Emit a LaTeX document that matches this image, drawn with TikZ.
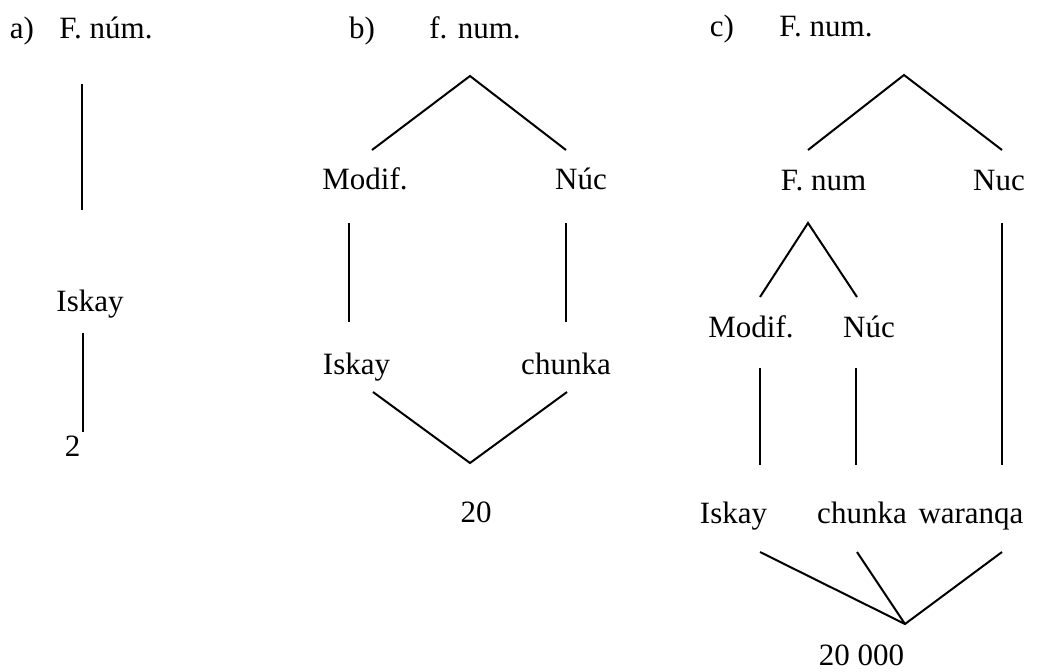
\documentclass[tikz,border=0pt]{standalone}
\usepackage{fontspec}
\setmainfont{Liberation Serif}
\begin{document}
\begin{tikzpicture}[x=1pt,y=-1pt,
  lbl/.style={inner sep=0pt, anchor=base, font=\fontsize{31}{37}\selectfont},
  link/.style={line width=2pt, line cap=butt, line join=miter}]
\useasboundingbox (0,0) rectangle (1037,672);

% ---------------- a) ----------------
\node[lbl] (a-tag)   at (22,38)   {a)};
\node[lbl] (a-root)  at (106,38)  {F. núm.};
\node[lbl] (a-isk)   at (90,311)  {Iskay};
\node[lbl] (a-two)   at (72.5,456) {2};
\coordinate (a1s) at (82,84);  \coordinate (a1e) at (82,210);
\coordinate (a2s) at (83,333); \coordinate (a2e) at (83,432);
\draw[link] (a1s) -- (a1e);
\draw[link] (a2s) -- (a2e);

% ---------------- b) ----------------
\node[lbl] (b-tag)   at (362,38)  {b)};
\node[lbl] (b-root)  at (475,38)  {f. num.};
\node[lbl] (b-mod)   at (365,189) {Modif.};
\node[lbl] (b-nuc)   at (581,189) {Núc};
\node[lbl] (b-isk)   at (356.5,374) {Iskay};
\node[lbl] (b-chu)   at (566,374) {chunka};
\node[lbl] (b-res)   at (476,522) {20};
\coordinate (bap) at (470,76);
\coordinate (bl)  at (372,150);
\coordinate (br)  at (566,150);
\coordinate (bv1s) at (349,223); \coordinate (bv1e) at (349,322);
\coordinate (bv2s) at (566,223); \coordinate (bv2e) at (566,322);
\coordinate (bll) at (373,392);
\coordinate (blr) at (567,392);
\coordinate (bbot) at (470,463);
\draw[link] (bl) -- (bap) -- (br);
\draw[link] (bv1s) -- (bv1e);
\draw[link] (bv2s) -- (bv2e);
\draw[link] (bll) -- (bbot) -- (blr);

% ---------------- c) ----------------
\node[lbl] (c-tag)   at (722,36)  {c)};
\node[lbl] (c-root)  at (826,36)  {F. num.};
\node[lbl] (c-fn)    at (823.5,190) {F. num};
\node[lbl] (c-nuc)   at (999,190) {Nuc};
\node[lbl] (c-mod)   at (751,337) {Modif.};
\node[lbl] (c-nuc2)  at (869,337) {Núc};
\node[lbl] (c-isk)   at (733.5,523) {Iskay};
\node[lbl] (c-chu)   at (862,523) {chunka};
\node[lbl] (c-war)   at (971,523) {waranqa};
\node[lbl] (c-res)   at (861.5,665) {20\kern0.25em000};
\coordinate (cap)  at (904,75);
\coordinate (cl)   at (808,150);
\coordinate (cr)   at (1002,150);
\coordinate (csap) at (808,223);
\coordinate (csl)  at (760,297);
\coordinate (csr)  at (857,297);
\coordinate (cv1s) at (760,368);  \coordinate (cv1e) at (760,465);
\coordinate (cv2s) at (856,368);  \coordinate (cv2e) at (856,465);
\coordinate (cv3s) at (1002,223); \coordinate (cv3e) at (1002,465);
\coordinate (cb1) at (760,552);
\coordinate (cb2) at (857,552);
\coordinate (cb3) at (1002,552);
\coordinate (cbot) at (905,624);
\draw[link] (cl) -- (cap) -- (cr);
\draw[link] (csl) -- (csap) -- (csr);
\draw[link] (cv1s) -- (cv1e);
\draw[link] (cv2s) -- (cv2e);
\draw[link] (cv3s) -- (cv3e);
\draw[link] (cb1) -- (cbot) -- (cb3);
\draw[link] (cb2) -- (cbot);
\end{tikzpicture}
\end{document}
